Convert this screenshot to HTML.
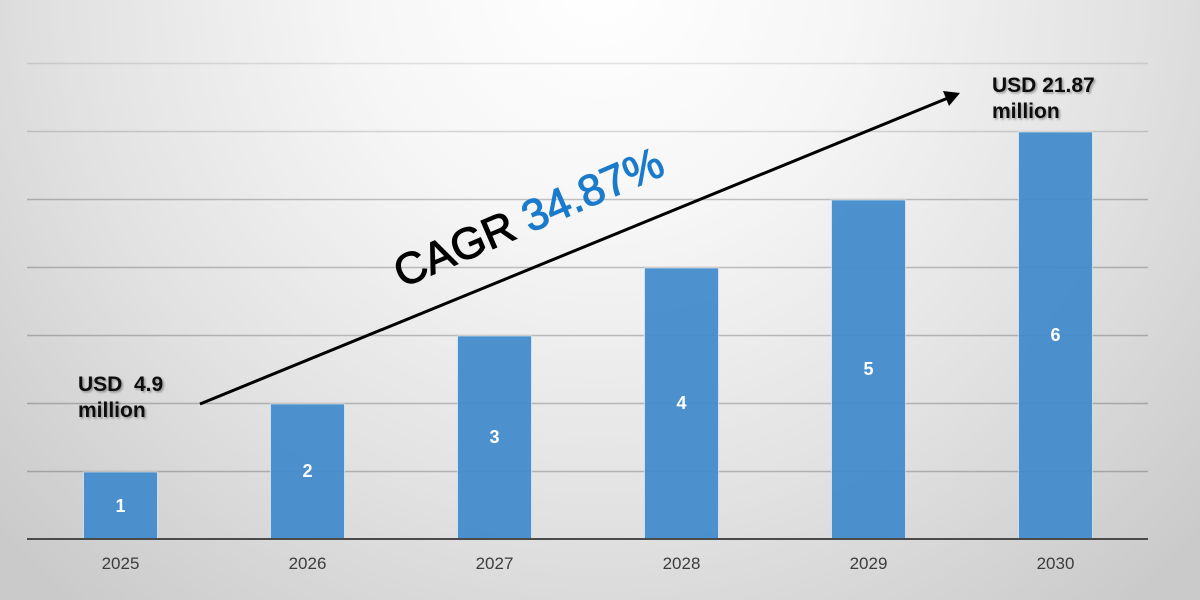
<!DOCTYPE html>
<html>
<head>
<meta charset="utf-8">
<style>
html,body{margin:0;padding:0;width:1200px;height:600px;overflow:hidden;background:#e0e0e0;}
svg{display:block;}
</style>
</head>
<body>
<svg width="1200" height="600" viewBox="0 0 1200 600" xmlns="http://www.w3.org/2000/svg">
  <defs>
    <radialGradient id="bg" gradientUnits="userSpaceOnUse" cx="600" cy="-20" r="820" fx="600" fy="-20">
      <stop offset="0" stop-color="#ffffff"/>
      <stop offset="0.3" stop-color="#f6f6f6"/>
      <stop offset="0.65" stop-color="#e2e2e2"/>
      <stop offset="0.85" stop-color="#d4d4d4"/>
      <stop offset="1" stop-color="#cacaca"/>
    </radialGradient>
    <filter id="sh" x="-10%" y="-30%" width="130%" height="160%">
      <feDropShadow dx="1.5" dy="1.5" stdDeviation="1" flood-color="#000" flood-opacity="0.35"/>
    </filter>
  </defs>

  <rect x="0" y="0" width="1200" height="600" fill="url(#bg)"/>

  <!-- gridlines -->
  <g stroke="rgba(0,0,0,0.22)" stroke-width="1.5">
    <line x1="27" y1="63.5" x2="1148" y2="63.5" stroke="rgba(0,0,0,0.1)"/>
    <line x1="27" y1="131.5" x2="1148" y2="131.5" stroke="rgba(0,0,0,0.14)"/>
    <line x1="27" y1="199.5" x2="1148" y2="199.5"/>
    <line x1="27" y1="267.5" x2="1148" y2="267.5"/>
    <line x1="27" y1="335.5" x2="1148" y2="335.5"/>
    <line x1="27" y1="403.5" x2="1148" y2="403.5"/>
    <line x1="27" y1="471.5" x2="1148" y2="471.5"/>
  </g>

  <!-- bars -->
  <g fill="#428acb" fill-opacity="0.94" stroke="rgba(255,255,255,0.55)" stroke-width="1">
    <rect x="83.5" y="472" width="74" height="67"/>
    <rect x="270.5" y="404" width="74" height="135"/>
    <rect x="457.5" y="336" width="74" height="203"/>
    <rect x="644.5" y="268" width="74" height="271"/>
    <rect x="831.5" y="200" width="74" height="339"/>
    <rect x="1018.5" y="132" width="74" height="407"/>
  </g>

  <!-- baseline -->
  <line x1="27" y1="539" x2="1148" y2="539" stroke="#4a4a4a" stroke-width="2"/>

  <!-- bar value labels -->
  <g font-family="Liberation Sans, Arial, sans-serif" font-size="18" font-weight="bold" fill="#ffffff" text-anchor="middle">
    <text x="120.5" y="512">1</text>
    <text x="307.5" y="477">2</text>
    <text x="494.5" y="443">3</text>
    <text x="681.5" y="409">4</text>
    <text x="868.5" y="375">5</text>
    <text x="1055.5" y="341">6</text>
  </g>

  <!-- x axis labels -->
  <g font-family="Liberation Sans, Arial, sans-serif" font-size="17" fill="#3c3c3c" text-anchor="middle">
    <text x="120.5" y="569">2025</text>
    <text x="307.5" y="569">2026</text>
    <text x="494.5" y="569">2027</text>
    <text x="681.5" y="569">2028</text>
    <text x="868.5" y="569">2029</text>
    <text x="1055.5" y="569">2030</text>
  </g>

  <!-- arrow -->
  <line x1="200" y1="404" x2="948" y2="98" stroke="#000" stroke-width="3"/>
  <polygon points="960,93 943,91 949,106" fill="#000"/>

  <!-- CAGR text -->
  <text transform="translate(402,288) rotate(-23.3)" font-family="Liberation Sans, Arial, sans-serif" font-size="44" fill="#000" stroke="#000" stroke-width="1.1">CAGR <tspan fill="#1a7acb" stroke="#1a7acb">34.87%</tspan></text>

  <!-- USD labels -->
  <g font-family="Liberation Sans, Arial, sans-serif" font-size="21" font-weight="bold" fill="#111" filter="url(#sh)">
    <text x="78" y="391" xml:space="preserve">USD  4.9</text>
    <text x="78" y="417">million</text>
    <text x="992" y="92">USD 21.87</text>
    <text x="992" y="118">million</text>
  </g>
</svg>
</body>
</html>
